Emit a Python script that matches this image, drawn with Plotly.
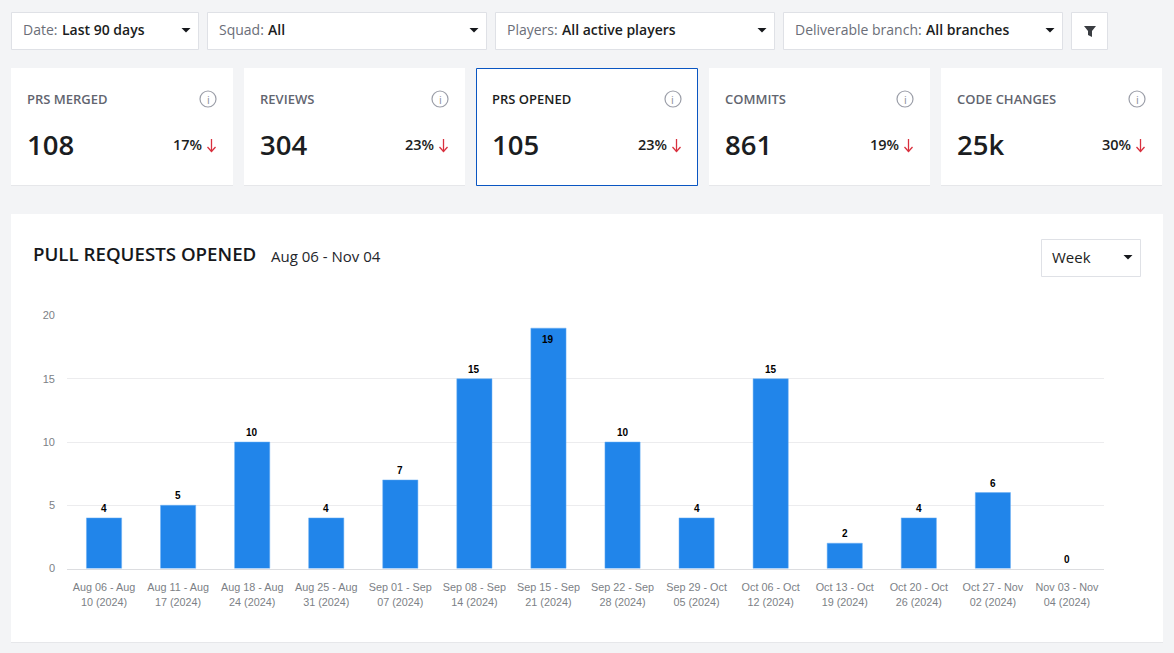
import plotly.graph_objects as go

W, H = 1174, 653
FONT = "Open Sans"
ARIAL = "Liberation Sans"

weeks = ["Aug 06 - Aug<br>10 (2024)", "Aug 11 - Aug<br>17 (2024)", "Aug 18 - Aug<br>24 (2024)",
         "Aug 25 - Aug<br>31 (2024)", "Sep 01 - Sep<br>07 (2024)", "Sep 08 - Sep<br>14 (2024)",
         "Sep 15 - Sep<br>21 (2024)", "Sep 22 - Sep<br>28 (2024)", "Sep 29 - Oct<br>05 (2024)",
         "Oct 06 - Oct<br>12 (2024)", "Oct 13 - Oct<br>19 (2024)", "Oct 20 - Oct<br>26 (2024)",
         "Oct 27 - Nov<br>02 (2024)", "Nov 03 - Nov<br>04 (2024)"]
prs_opened = [4, 5, 10, 4, 7, 15, 19, 10, 4, 15, 2, 4, 6, 0]
y_ticks = [0, 5, 10, 15, 20]

card_titles = ["PRS MERGED", "REVIEWS", "PRS OPENED", "COMMITS", "CODE CHANGES"]
card_values = ["108", "304", "105", "861", "25k"]
card_deltas = ["17%", "23%", "23%", "19%", "30%"]

filter_labels = ["Date:", "Squad:", "Players:", "Deliverable branch:"]
filter_values = ["Last 90 days", "All", "All active players", "All branches"]

shapes, annots = [], []


def px(x):
    return x / W


def py(y):
    return 1 - y / H


def rect(x0, y0, x1, y1, fill="white", line=None, lw=1):
    # 有边框时偏移半像素，线条才清晰
    off = 0.5 if line else 0
    shapes.append(dict(type="rect", xref="paper", yref="paper", layer="below",
                       x0=px(x0 + off), x1=px(x1 - off), y0=py(y0 + off), y1=py(y1 - off), fillcolor=fill,
                       line=dict(color=line or "rgba(0,0,0,0)", width=lw if line else 0)))


def text(x, y, s, size=13, color="#1b1d21", anchor="left", weight=400, family=FONT):
    annots.append(dict(xref="paper", yref="paper", x=px(x), y=py(y), text=s, showarrow=False,
                       xanchor=anchor, yanchor="middle", align=anchor,
                       font=dict(family=family, size=size, color=color, weight=weight),
                       borderpad=0, borderwidth=0))


def path(points, fill=None, line=None, lw=1):
    d = "M " + " L ".join(f"{px(x):.5f} {py(y):.5f}" for x, y in points)
    if fill:
        d += " Z"
    shapes.append(dict(type="path", xref="paper", yref="paper", path=d, layer="above",
                       fillcolor=fill or "rgba(0,0,0,0)",
                       line=dict(color=line or "rgba(0,0,0,0)", width=lw if line else 0)))


def caret(cx, cy):
    path([(cx - 4.5, cy - 2), (cx + 4.5, cy - 2), (cx, cy + 2.5)], fill="#16181c")


def dropdown(x0, x1, y0=12, y1=50):
    rect(x0, y0, x1, y1, line="#dfe1e6")


# 顶部筛选条
filter_x = [(11, 199), (207, 487), (495, 775), (783, 1063)]
value_x = [61.5, 268, 562, 926]
for (x0, x1), lab, val, vx in zip(filter_x, filter_labels, filter_values, value_x):
    dropdown(x0, x1)
    text(x0 + 12, 29.5, lab, size=14, color="#6b6e78")
    text(vx, 29.5, val, size=14, weight=600)
    caret(x1 - 13, 30)
dropdown(1071, 1108)
path([(1084, 26), (1096, 26), (1092, 31), (1092, 37), (1088, 35), (1088, 31)], fill="#3a3d42")

# 指标卡片
card_x = [(11, 233), (244, 465), (476, 698), (709, 930), (941, 1162)]
for i, ((x0, x1), t, v, d) in enumerate(zip(card_x, card_titles, card_values, card_deltas)):
    rect(x0, 69, x1, 186, fill="#e6e7ea")
    rect(x0, 68, x1, 186 if i == 2 else 185, line="#0a56c2" if i == 2 else None)
    text(x0 + 15.5, 98.5, t, size=13, color="#1b1d21" if i == 2 else "#62656f", weight=600)
    text(x0 + 15.5, 144, v, size=27.5, weight=600)
    text(x1 - 31, 144.5, d, size=14.5, anchor="right", weight=600)
    # 信息图标
    cx = x1 - 25
    shapes.append(dict(type="circle", xref="paper", yref="paper", x0=px(cx - 8), x1=px(cx + 8),
                       y0=py(107), y1=py(91), line=dict(color="#9b9ea8", width=1.2),
                       fillcolor="rgba(0,0,0,0)"))
    text(cx, 99.5, "i", size=11, color="#8b8e98", anchor="center")
    # 红色向下箭头
    ax = x1 - 21.5
    path([(ax, 139), (ax, 151.5)], line="#d9303e", lw=1.3)
    path([(ax - 4, 147), (ax, 151.5), (ax + 4, 147)], line="#d9303e", lw=1.3)

# 图表卡片
rect(11, 215, 1163, 643, fill="#e6e7ea")
rect(11, 214, 1163, 642)
text(32.5, 254, "PULL REQUESTS OPENED", size=18.7, color="#16181c", weight=600)
text(271, 255.5, "Aug 06 - Nov 04", size=15, color="#24262b")
rect(1041, 239, 1141, 277, line="#dfe1e6")
text(1052, 256.5, "Week", size=15, color="#1b1d21")
caret(1128, 257)

# 柱顶数字，19 这根放在柱内
for wk, v in zip(weeks, prs_opened):
    annots.append(dict(xref="x", yref="y", x=wk, y=v, text=f"<b>{v}</b>", showarrow=False,
                       xanchor="center", yanchor="middle", yshift=-11 if v >= 19 else 9.5,
                       font=dict(family=ARIAL, size=10, color="#000000")))

fig = go.Figure()
fig.add_trace(go.Bar(
    x=weeks, y=prs_opened,
    marker=dict(color="#2185ea",
                line=dict(color="#6cb0f4", width=[0.5 if v > 0 else 0 for v in prs_opened])),
))

fig.update_layout(
    width=W, height=H, autosize=False,
    margin=dict(l=0, r=0, t=0, b=0),
    paper_bgcolor="#f3f4f6", plot_bgcolor="rgba(0,0,0,0)",
    showlegend=False, bargap=0.525,
    shapes=shapes, annotations=annots,
    xaxis=dict(domain=[px(67), px(1104)], anchor="y", type="category", tickmode="array",
               tickvals=weeks, ticktext=weeks, tickangle=0, ticks="", ticklabelstandoff=9,
               showgrid=False, showline=True, linecolor="#dcdde0", linewidth=1,
               tickfont=dict(family=ARIAL, size=10.8, color="#7c7f86"), automargin=False),
    yaxis=dict(domain=[py(568.5), py(315.5)], anchor="x", range=[0, 20], tickmode="array",
               tickvals=y_ticks, ticks="", showgrid=True, gridcolor="#ececee", gridwidth=1,
               zeroline=False, showline=False, ticklabelstandoff=11,
               tickfont=dict(family=ARIAL, size=11, color="#7c7f86"), automargin=False),
)

fig.write_html("out.html", config=dict(displayModeBar=False),
               post_script="document.body.style.margin='0';document.body.style.overflow='hidden';")
